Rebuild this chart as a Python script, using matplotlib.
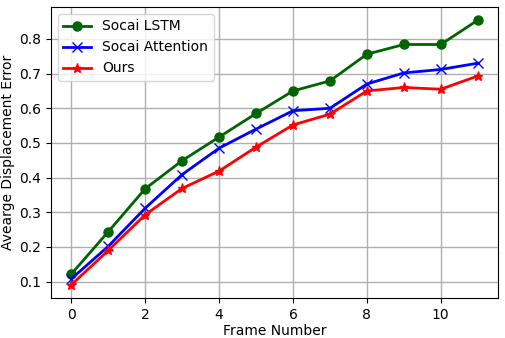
import matplotlib
matplotlib.use("Agg")
import matplotlib.pyplot as plt

frames = list(range(12))
socai_lstm = [0.122, 0.244, 0.368, 0.449, 0.517, 0.585, 0.650, 0.679, 0.756, 0.784, 0.784, 0.854]
socai_attention = [0.108, 0.202, 0.312, 0.409, 0.485, 0.540, 0.593, 0.600, 0.670, 0.702, 0.712, 0.730]
ours = [0.091, 0.190, 0.293, 0.369, 0.419, 0.488, 0.552, 0.583, 0.650, 0.660, 0.655, 0.693]

fig = plt.figure(figsize=(5.06, 3.38), dpi=100)
ax = fig.add_axes([51/506, 40/338, 447/506, 291/338])

ax.plot(frames, socai_lstm, color='darkgreen', marker='o', markersize=6.5, linewidth=2, label='Socai LSTM')
ax.plot(frames, socai_attention, color='blue', marker='x', markersize=6.5, linewidth=2, label='Socai Attention')
ax.plot(frames, ours, color='red', marker='*', markersize=6.5, linewidth=2, label='Ours')

ax.set_xticks([0, 2, 4, 6, 8, 10])
ax.set_yticks([0.1, 0.2, 0.3, 0.4, 0.5, 0.6, 0.7, 0.8])
ax.grid(True, color='#b0b0b0', linewidth=1)
ax.set_xlabel('Frame Number', fontsize=10, labelpad=1.5)
ax.set_ylabel('Avearge Displacement Error', fontsize=10, labelpad=3)
ax.tick_params(labelsize=10)
ax.legend(loc='upper left', fontsize=10)

fig.savefig('out.png', dpi=100)
